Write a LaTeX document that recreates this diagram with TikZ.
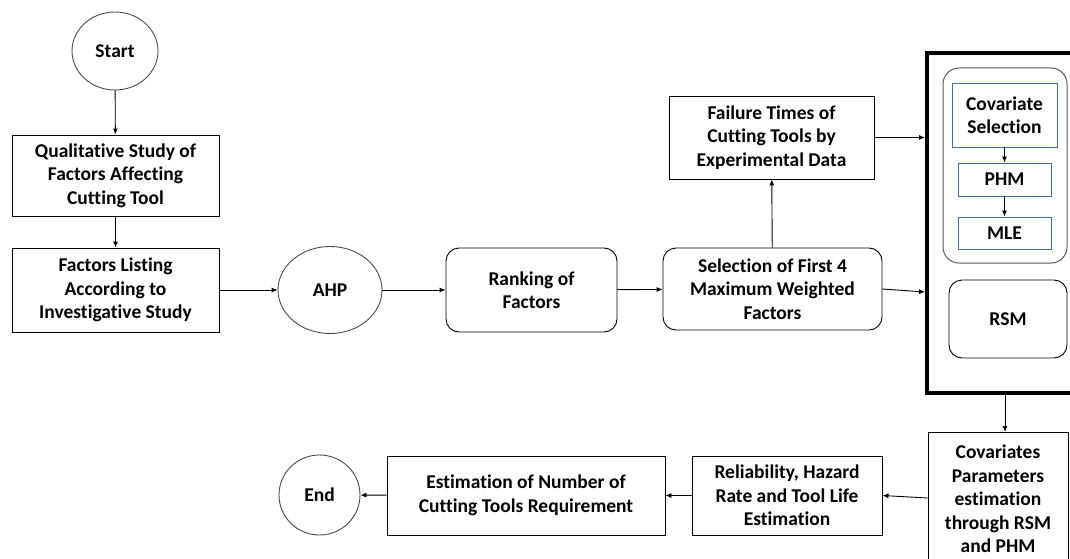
\documentclass[tikz,border=0pt]{standalone}
\usepackage{fontspec}
\setmainfont{Carlito}[Ligatures=NoCommon]
\usetikzlibrary{shapes.geometric,arrows.meta}
\definecolor{boxblue}{RGB}{65,113,156}
\begin{document}
\begin{tikzpicture}[x=1pt,y=-1pt,
  font=\fontsize{19.5}{23.5}\selectfont\bfseries,
  every node/.style={align=center,inner sep=0pt},
  blk/.style={rectangle,draw,line width=0.9pt,minimum width=#1},
  rnd/.style={rectangle,draw,line width=0.9pt,rounded corners=13pt,minimum width=#1},
  oval/.style={ellipse,draw=black!70,line width=0.9pt},
  sub/.style={rectangle,draw=boxblue,line width=0.9pt,minimum width=#1},
  arr/.style={-{Latex[length=6pt,width=5pt]},line width=0.9pt}]
\useasboundingbox (0,0) rectangle (1070,559);
\node [oval,minimum width=86pt,minimum height=78pt] (start) at (115,51) {Start};
\node [blk=207pt,minimum height=81pt] (qual) at (115.5,175.5) {Qualitative Study of\\Factors Affecting\\Cutting Tool};
\node [blk=207pt,minimum height=84pt] (list) at (115.5,290) {Factors Listing\\According to\\Investigative Study};
\node [oval,minimum width=104pt,minimum height=87pt] (ahp) at (330,290) {AHP};
\node [rnd=171pt,minimum height=84pt] (rank) at (531.5,290) {Ranking of\\Factors};
\node [rnd=219pt,minimum height=82pt] (sel) at (772.5,289) {Selection of First 4\\Maximum Weighted\\Factors};
\node [blk=205pt,minimum height=83pt] (fail) at (771.5,137.5) {Failure Times of\\Cutting Tools by\\Experimental Data};
\node [rectangle,draw=black!65,line width=1pt,rounded corners=16pt,minimum width=124pt,minimum height=195pt] (inner) at (1005,165.5) {};
\node [sub=105pt,minimum height=64pt] (cov) at (1004.5,115) {Covariate\\Selection};
\node [sub=93pt,minimum height=33pt] (phm) at (1004.5,179.5) {PHM};
\node [sub=93pt,minimum height=32pt] (mle) at (1004.5,233) {MLE};
\node [rnd=118pt,minimum height=78pt] (rsm) at (1008,319) {RSM};
\node [blk=140pt,minimum height=134pt] (cpe) at (998,499) {Covariates\\Parameters\\estimation\\through RSM\\and PHM};
\node [blk=190pt,minimum height=79pt] (rel) at (787,495.5) {Reliability, Hazard\\Rate and Tool Life\\Estimation};
\node [blk=278pt,minimum height=79pt] (est) at (526,495.5) {Estimation of Number of\\Cutting Tools Requirement};
\node [oval,minimum width=81pt,minimum height=80pt] (end) at (319.5,495) {End};
\draw [line width=3.5pt] (1080,53) -- (927,53) -- (927,393) -- (1080,393);
\coordinate (fin1) at (925,137.5);
\coordinate (fin2) at (925,292);
\coordinate (fout) at (1005,395);
\coordinate (cin) at (1005,432);
\draw [arr] (start) -- (qual);
\draw [arr] (qual) -- (list);
\draw [arr] (list) -- (ahp);
\draw [arr] (ahp) -- (rank);
\draw [arr] (rank) -- (sel);
\draw [arr] (sel) -- (fail);
\draw [arr] (fail) -- (fin1);
\draw [arr] (sel.east) -- (fin2);
\draw [arr] (cov) -- (phm);
\draw [arr] (phm) -- (mle);
\draw [arr] (fout) -- (cin);
\draw [arr] (cpe.west) ++(0,-1) -- (rel.east);
\draw [arr] (rel) -- (est);
\draw [arr] (est) -- (end);
\end{tikzpicture}
\end{document}
